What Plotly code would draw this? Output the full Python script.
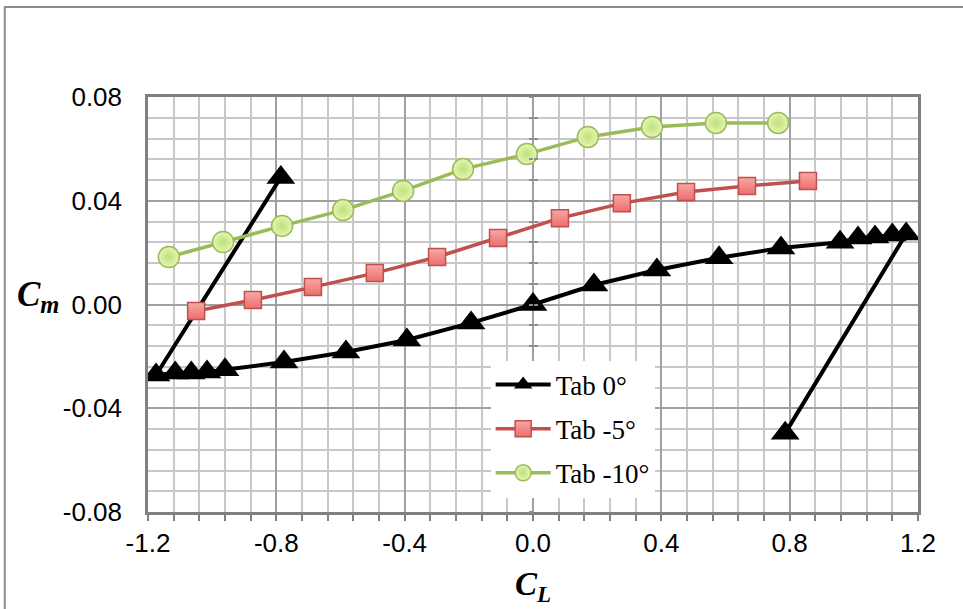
import plotly.graph_objects as go

# ---- data ----
tab0_cl = [-0.786, -1.175, -1.115, -1.065, -1.016, -0.96, -0.776, -0.583, -0.393, -0.193,
           0.0, 0.19, 0.386, 0.58, 0.773, 0.957, 1.013, 1.066, 1.12, 1.163, 0.786]
tab0_cm = [0.049, -0.0272, -0.0264, -0.0264, -0.026, -0.0252, -0.0222, -0.0183, -0.0137, -0.0071,
           0.0, 0.0075, 0.0133, 0.018, 0.0218, 0.024, 0.0256, 0.026, 0.0268, 0.0272, -0.0496]

tab5_cl = [-1.05, -0.873, -0.686, -0.493, -0.299, -0.109, 0.084, 0.277, 0.477, 0.667, 0.857]
tab5_cm = [-0.0025, 0.0017, 0.0067, 0.0121, 0.0183, 0.0256, 0.0333, 0.039, 0.0434, 0.0457, 0.0476]

tab10_cl = [-1.135, -0.966, -0.782, -0.592, -0.405, -0.218, -0.019, 0.171, 0.371, 0.570, 0.764]
tab10_cm = [0.0183, 0.0241, 0.0303, 0.0364, 0.0438, 0.0522, 0.058, 0.0646, 0.0684, 0.070, 0.070]

series_names = ["Tab 0°", "Tab -5°", "Tab -10°"]

x_tickvals = [-1.2, -0.8, -0.4, 0.0, 0.4, 0.8, 1.2]
x_ticktext = ["-1.2", "-0.8", "-0.4", "0.0", "0.4", "0.8", "1.2"]
y_tickvals = [-0.08, -0.04, 0.0, 0.04, 0.08]
y_ticktext = ["-0.08", "-0.04", "0.00", "0.04", "0.08"]

fig = go.Figure()

fig.add_trace(go.Scatter(
    x=tab0_cl, y=tab0_cm, name=series_names[0], mode="lines+markers", legendgroup="g0",
    line=dict(color="#000000", width=4),
    marker=dict(symbol="triangle-up", size=25, color="#000000",
                line=dict(color="#000000", width=0)),
))
fig.add_trace(go.Scatter(
    x=tab5_cl, y=tab5_cm, name=series_names[1], mode="lines+markers", legendgroup="g1",
    line=dict(color="#C0504D", width=3.5),
    marker=dict(symbol="square", size=17, color="#F7A8A5",
                gradient=dict(type="vertical", color="#EC6E6B"),
                line=dict(color="#C0504D", width=1.5)),
))
fig.add_trace(go.Scatter(
    x=tab10_cl, y=tab10_cm, name=series_names[2], mode="lines+markers", legendgroup="g2",
    line=dict(color="#9BBB59", width=3.5),
    marker=dict(symbol="circle", size=21, color="#E4F6B4",
                gradient=dict(type="radial", color="#BFE07A"),
                line=dict(color="#9BBB59", width=1.5)),
))

tickfont = dict(family="Liberation Sans, Arial, sans-serif", size=26, color="#000000")

fig.update_layout(
    width=963, height=609,
    margin=dict(l=148, r=45, t=97, b=97),
    paper_bgcolor="#FFFFFF", plot_bgcolor="#FFFFFF",
    showlegend=True,
    legend=dict(
        x=0.445, y=0.365, xanchor="left", yanchor="top",
        bgcolor="#FFFFFF", borderwidth=0,
        font=dict(family="Liberation Serif, Times New Roman, serif", size=27, color="#000000"),
        itemwidth=55, tracegroupgap=6,
    ),
    xaxis=dict(
        range=[-1.2, 1.2], tickvals=x_tickvals, ticktext=x_ticktext,
        showgrid=True, gridcolor="#A0A0A0", gridwidth=2,
        showline=True, linecolor="#808080", linewidth=2.5, mirror=True,
        ticks="outside", ticklen=6, tickcolor="#808080", tickwidth=2,
        tickfont=tickfont, zeroline=False,
        minor=dict(dtick=0.08, showgrid=True, gridcolor="#C8C8C8", gridwidth=2,
                   ticks="outside", ticklen=6, tickcolor="#808080", tickwidth=2),
    ),
    yaxis=dict(
        range=[-0.08, 0.08], tickvals=y_tickvals, ticktext=y_ticktext,
        showgrid=True, gridcolor="#A0A0A0", gridwidth=2,
        showline=True, linecolor="#808080", linewidth=2.5, mirror=True,
        ticks="", ticklabelstandoff=18,
        tickfont=tickfont, zeroline=False,
        minor=dict(dtick=0.008, showgrid=True, gridcolor="#C8C8C8", gridwidth=2),
    ),
    yaxis2=dict(
        overlaying="y", anchor="free", position=0.5, range=[-0.08, 0.08],
        dtick=0.008, tick0=0, ticks="outside", ticklen=4, tickcolor="#8C8C8C", tickwidth=2,
        showticklabels=False, showgrid=False, showline=False, zeroline=False,
    ),
    yaxis3=dict(
        overlaying="y", anchor="free", position=0.5, range=[-0.08, 0.08],
        dtick=0.008, tick0=0, ticks="inside", ticklen=4, tickcolor="#8C8C8C", tickwidth=2,
        showticklabels=False, showgrid=False, showline=False, zeroline=False,
    ),
)

# invisible traces to activate the cross-tick overlay axes
fig.add_trace(go.Scatter(x=[None], y=[None], yaxis="y2", showlegend=False, hoverinfo="skip"))
fig.add_trace(go.Scatter(x=[None], y=[None], yaxis="y3", showlegend=False, hoverinfo="skip"))

title_font = dict(family="Liberation Serif, Times New Roman, serif", size=35, color="#000000")
fig.add_annotation(text="<b><i>C<sub>m</sub></i></b>", xref="paper", yref="paper",
                   x=-0.143, y=0.52, xanchor="center", yanchor="middle",
                   showarrow=False, font=title_font)
fig.add_annotation(text="<b><i>C<sub>L</sub></i></b>", xref="paper", yref="paper",
                   x=0.5, y=-0.18, xanchor="center", yanchor="middle",
                   showarrow=False, font=dict(family="Liberation Serif, Times New Roman, serif",
                                               size=33, color="#000000"))

# outer chart-area border
fig.add_shape(type="rect", xref="paper", yref="paper",
              x0=-0.186, y0=-0.6, x1=1.3, y1=1.217,
              line=dict(color="#8C8C8C", width=2), fillcolor="rgba(0,0,0,0)", layer="below")

fig.write_html("out.html")
